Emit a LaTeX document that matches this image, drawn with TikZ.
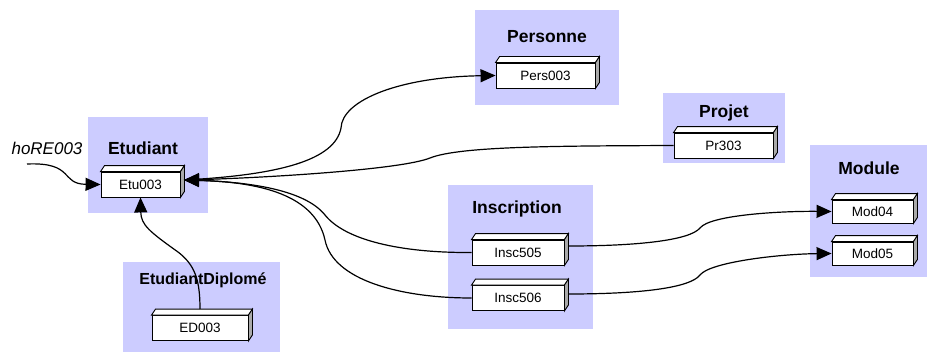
\documentclass[tikz,border=0pt]{standalone}
\usepackage{fontspec}
\setmainfont{Liberation Sans}
\usetikzlibrary{arrows.meta,calc}
\definecolor{lav}{RGB}{204,204,255}
\definecolor{sidegray}{RGB}{170,170,170}
\tikzset{
  grp/.style={fill=lav,draw=none},
  ttl/.style={font=\fontsize{17.5}{20}\selectfont\bfseries, inner sep=0pt},
  obj/.style={draw=black,fill=white,line width=0.9pt,minimum height=25pt,inner sep=0pt,font=\fontsize{13.5}{16}\selectfont},
  link/.style={line width=1.2pt,-{Triangle[length=15pt,width=13pt]}},
  face/.style={line width=0.9pt,draw=black},
}
\newcommand\threeD[1]{%
  \filldraw[face,fill=white] (#1.north west) -- ++(4,-6) -- ($(#1.north east)+(4,-6)$) -- (#1.north east) -- cycle;
  \filldraw[face,fill=sidegray] (#1.north east) -- ++(4,-6) -- ($(#1.south east)+(4,-6)$) -- (#1.south east) -- cycle;}
\begin{document}
\begin{tikzpicture}[x=1pt,y=-1pt]
\useasboundingbox (0,0) rectangle (927,353);
% group backgrounds
\fill[grp] (88,117) rectangle (208,213);
\fill[grp] (123,262) rectangle (280,352);
\fill[grp] (475,10) rectangle (619,105);
\fill[grp] (663,93) rectangle (785,163);
\fill[grp] (448,185) rectangle (593,329);
\fill[grp] (810,145) rectangle (927,277);
% titles
\node[ttl] (tEtu) at (143,148) {Etudiant};
\node[ttl,font=\fontsize{16}{19}\selectfont\bfseries] (tED) at (203,280) {EtudiantDiplomé};
\node[ttl] (tPers) at (547,37) {Personne};
\node[ttl] (tPr) at (724,113) {Projet};
\node[ttl] (tInsc) at (517,209) {Inscription};
\node[ttl] (tMod) at (869,168) {Module};
\node[font=\fontsize{17}{20}\selectfont\itshape,inner sep=0pt] (ho) at (47,148) {hoRE003};
% objects
\node[obj,minimum width=79pt] (etu) at (140.5,184.5) {Etu003};
\node[obj,minimum width=96pt] (ed) at (200,328) {ED003};
\node[obj,minimum width=99pt] (pers) at (545.5,75.5) {Pers003};
\node[obj,minimum width=99pt] (pr) at (723.5,145.5) {Pr303};
\node[obj,minimum width=92pt] (i505) at (518,252.5) {Insc505};
\node[obj,minimum width=92pt] (i506) at (518,298) {Insc506};
\node[obj,minimum width=81pt,minimum height=23pt] (m04) at (872.5,211.5) {Mod04};
\node[obj,minimum width=81pt,minimum height=23pt] (m05) at (872.5,253.5) {Mod05};
\foreach \n in {etu,ed,pers,pr,i505,i506,m04,m05} {\threeD{\n}}
% connector points
\coordinate (hoS) at (27,164);
\coordinate (etuE) at (184,180);
\coordinate (edN) at (200,309);
\coordinate (i505E) at (568,246);
\coordinate (i506E) at (568,294);
% connectors
\draw[link] (hoS) .. controls (75,162) and (60,184) .. (etu.west);
\draw[link] (etuE) .. controls (280,175) and (335,160) .. (341,128) .. controls (342,100) and (400,77) .. (pers.west);
\draw[link] (pr.west) .. controls (560,146) and (460,146) .. (430,158) .. controls (400,170) and (260,178) .. (etuE);
\draw[link] (i505.west) .. controls (400,253) and (345,240) .. (325,215) .. controls (305,190) and (250,182) .. (etuE);
\draw[link] (i506.west) .. controls (400,298) and (333,280) .. (325,240) .. controls (315,195) and (260,182) .. (etuE);
\draw[link] (edN) .. controls (200,280) and (195,265) .. (178,252) .. controls (150,232) and (141,225) .. (etu.south);
\draw[link] (i505E) .. controls (640,246) and (690,240) .. (700,228) .. controls (710,215) and (780,211) .. (m04.west);
\draw[link] (i506E) .. controls (640,294) and (690,288) .. (700,275) .. controls (710,262) and (780,254) .. (m05.west);
\end{tikzpicture}
\end{document}
